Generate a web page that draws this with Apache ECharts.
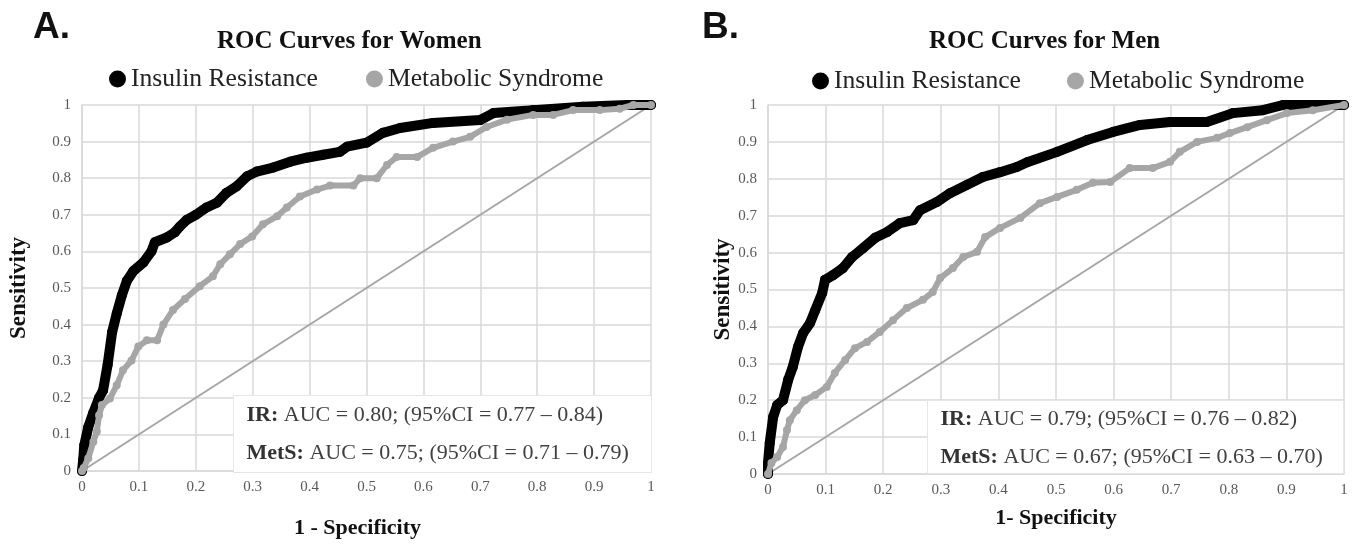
<!DOCTYPE html>
<html>
<head>
<meta charset="utf-8">
<title>ROC Curves</title>
<script src="https://cdn.jsdelivr.net/npm/echarts@6/dist/echarts.min.js"></script>
<style>html,body{margin:0;padding:0;background:#fff;}</style>
</head>
<body>
<div id="main" style="width:1355px;height:544px;"></div>
<script type="text/javascript">
// curve points: [1 - specificity, sensitivity]
var womenIR = [[0,0],[0.002,0.03],[0.004,0.07],[0.011,0.12],[0.02,0.16],[0.03,0.2],[0.037,0.22],[0.045,0.29],[0.053,0.38],[0.061,0.43],[0.07,0.48],[0.079,0.52],[0.09,0.546],[0.108,0.57],[0.122,0.6],[0.128,0.625],[0.149,0.638],[0.163,0.652],[0.172,0.668],[0.184,0.686],[0.2,0.7],[0.219,0.72],[0.237,0.733],[0.254,0.76],[0.272,0.778],[0.29,0.805],[0.307,0.818],[0.336,0.829],[0.366,0.845],[0.395,0.856],[0.424,0.864],[0.453,0.872],[0.466,0.886],[0.5,0.897],[0.529,0.924],[0.559,0.937],[0.617,0.951],[0.7,0.959],[0.723,0.978],[0.793,0.986],[0.88,0.995],[0.958,1],[1,1]];
var womenMetS = [[0,0],[0.003,0.008],[0.011,0.035],[0.02,0.08],[0.026,0.108],[0.03,0.152],[0.035,0.18],[0.049,0.198],[0.061,0.234],[0.072,0.275],[0.087,0.302],[0.099,0.34],[0.114,0.357],[0.132,0.357],[0.143,0.4],[0.16,0.44],[0.181,0.47],[0.207,0.505],[0.23,0.532],[0.243,0.565],[0.26,0.592],[0.278,0.62],[0.299,0.641],[0.318,0.674],[0.343,0.696],[0.36,0.72],[0.383,0.75],[0.413,0.769],[0.436,0.78],[0.477,0.78],[0.489,0.8],[0.518,0.8],[0.536,0.836],[0.553,0.858],[0.589,0.858],[0.617,0.883],[0.652,0.9],[0.682,0.913],[0.711,0.94],[0.747,0.96],[0.793,0.973],[0.828,0.973],[0.863,0.986],[0.91,0.986],[0.945,0.99],[0.969,1],[1,1]];
var menIR = [[0,0],[0,0.03],[0.003,0.084],[0.009,0.155],[0.016,0.187],[0.026,0.2],[0.035,0.255],[0.043,0.29],[0.052,0.344],[0.061,0.382],[0.073,0.409],[0.082,0.444],[0.094,0.49],[0.099,0.526],[0.113,0.539],[0.13,0.558],[0.146,0.588],[0.165,0.612],[0.186,0.64],[0.207,0.656],[0.229,0.68],[0.252,0.688],[0.264,0.715],[0.293,0.737],[0.316,0.761],[0.345,0.783],[0.373,0.805],[0.403,0.818],[0.432,0.832],[0.45,0.845],[0.502,0.873],[0.554,0.905],[0.599,0.927],[0.646,0.946],[0.698,0.954],[0.762,0.954],[0.807,0.978],[0.859,0.986],[0.894,1],[1,1]];
var menMetS = [[0,0],[0.006,0.03],[0.016,0.046],[0.026,0.073],[0.033,0.119],[0.038,0.146],[0.05,0.173],[0.064,0.2],[0.082,0.214],[0.102,0.236],[0.116,0.274],[0.134,0.309],[0.151,0.341],[0.172,0.358],[0.194,0.385],[0.217,0.417],[0.241,0.45],[0.269,0.472],[0.286,0.493],[0.299,0.531],[0.321,0.558],[0.339,0.588],[0.363,0.602],[0.377,0.642],[0.403,0.667],[0.438,0.694],[0.472,0.734],[0.502,0.751],[0.536,0.77],[0.564,0.789],[0.594,0.791],[0.628,0.829],[0.668,0.829],[0.698,0.846],[0.715,0.873],[0.745,0.9],[0.78,0.911],[0.802,0.924],[0.832,0.94],[0.866,0.959],[0.901,0.978],[0.946,0.986],[1,1]];
var diagonal = [[0,0],[1,1]];

var seriesNames = ['Insulin Resistance', 'Metabolic Syndrome'];
var panelTitles = ['ROC Curves for Women', 'ROC Curves for Men'];
var xNames = ['1 - Specificity', '1- Specificity'];
var aucIR = ['AUC = 0.80; (95%CI = 0.77 \u2013 0.84)', 'AUC = 0.79; (95%CI = 0.76 \u2013 0.82)'];
var aucMetS = ['AUC = 0.75; (95%CI = 0.71 \u2013 0.79)', 'AUC = 0.67; (95%CI = 0.63 \u2013 0.70)'];

var serif = 'Liberation Serif, Times New Roman, serif';
var sans = 'Liberation Sans, Arial, sans-serif';
var gridColor = '#d9d9d9';

var myChart = echarts.init(document.getElementById('main'));

function xAxisFor(i, gap, pad) {
    return {
        type: 'value', gridIndex: i, min: 0, max: 1, interval: 0.1,
        name: xNames[i], nameLocation: 'middle', nameGap: gap,
        nameTextStyle: { fontFamily: serif, fontWeight: 'bold', fontSize: 22, color: '#111', padding: pad },
        axisLine: { lineStyle: { color: gridColor, width: 1.5 } },
        axisTick: { show: false },
        axisLabel: { fontFamily: serif, fontSize: 15, color: '#595959', margin: 9 },
        splitLine: { show: true, lineStyle: { color: gridColor, width: 1.5 } }
    };
}
function yAxisFor(i, gap) {
    return {
        type: 'value', gridIndex: i, min: 0, max: 1, interval: 0.1,
        name: 'Sensitivity', nameLocation: 'middle', nameGap: gap, nameRotate: 90,
        nameTextStyle: { fontFamily: serif, fontWeight: 'bold', fontSize: 23, color: '#111' },
        axisLine: { show: true, lineStyle: { color: gridColor, width: 1.5 } },
        axisTick: { show: false },
        axisLabel: { fontFamily: serif, fontSize: 15, color: '#595959', margin: 11 },
        splitLine: { show: true, lineStyle: { color: gridColor, width: 1.5 } }
    };
}
function curve(name, data, i, isIR) {
    return {
        name: name, type: 'line', xAxisIndex: i, yAxisIndex: i, data: data,
        color: isIR ? '#000' : '#a6a6a6',
        symbol: 'circle', symbolSize: isIR ? 10 : 8, showSymbol: true,
        lineStyle: { width: isIR ? 10 : 6, cap: 'round', join: 'round' },
        animation: false, z: isIR ? 3 : 4
    };
}
function aucBox(x, y, w, h, i, y1, y2) {
    var st = { fontFamily: serif, fontSize: 22, fill: '#404040', verticalAlign: 'middle' };
    var bold = { fontWeight: 'bold', fontFamily: serif, fontSize: 22, fill: '#333' };
    return {
        type: 'group', left: x, top: y, z: 100,
        children: [
            { type: 'rect', z: 100, shape: { x: 0, y: 0, width: w, height: h }, style: { fill: '#fff', stroke: '#e6e6e6', lineWidth: 1 } },
            { type: 'text', z: 101, x: 13, y: y1, style: Object.assign({ text: '{b|IR:} ' + aucIR[i], rich: { b: bold } }, st) },
            { type: 'text', z: 101, x: 13, y: y2, style: Object.assign({ text: '{b|MetS:} ' + aucMetS[i], rich: { b: bold } }, st) }
        ]
    };
}

var legendText = { fontFamily: serif, fontSize: 25.6, color: '#222' };

var option = {
    backgroundColor: '#fff',
    title: [
        { text: 'A.', left: 28, top: 4, textStyle: { fontFamily: sans, fontWeight: 'bold', fontSize: 37, color: '#111' } },
        { text: 'B.', left: 697, top: 4, textStyle: { fontFamily: sans, fontWeight: 'bold', fontSize: 37, color: '#111' } },
        { text: panelTitles[0], left: 212, top: 24, textStyle: { fontFamily: serif, fontWeight: 'bold', fontSize: 25, color: '#111' } },
        { text: panelTitles[1], left: 924, top: 24, textStyle: { fontFamily: serif, fontWeight: 'bold', fontSize: 25, color: '#111' } }
    ],
    legend: [
        { data: seriesNames, left: 104, top: 61, icon: 'circle', itemWidth: 17, itemHeight: 17, itemGap: 48, textStyle: legendText, selectedMode: false },
        { data: seriesNames, left: 807, top: 63, icon: 'circle', itemWidth: 17, itemHeight: 17, itemGap: 46, textStyle: legendText, selectedMode: false }
    ],
    grid: [
        { left: 82, top: 105, width: 569, height: 368 },
        { left: 768, top: 105, width: 576, height: 369 }
    ],
    xAxis: [xAxisFor(0, 46, [0, 18, 0, 0]), xAxisFor(1, 33, 0)],
    yAxis: [yAxisFor(0, 51), yAxisFor(1, 33)],
    series: [
        { type: 'line', xAxisIndex: 0, yAxisIndex: 0, data: diagonal, symbol: 'none', color: '#a6a6a6', lineStyle: { width: 2 }, animation: false, z: 2 },
        { type: 'line', xAxisIndex: 1, yAxisIndex: 1, data: diagonal, symbol: 'none', color: '#a6a6a6', lineStyle: { width: 2 }, animation: false, z: 2 },
        curve(seriesNames[0], womenIR, 0, true),
        curve(seriesNames[1], womenMetS, 0, false),
        curve(seriesNames[0], menIR, 1, true),
        curve(seriesNames[1], menMetS, 1, false)
    ],
    graphic: [
        aucBox(233, 395, 418, 77, 0, 20, 58),
        aucBox(927, 400, 416, 73, 1, 19, 57)
    ]
};

myChart.setOption(option);
</script>
</body>
</html>
